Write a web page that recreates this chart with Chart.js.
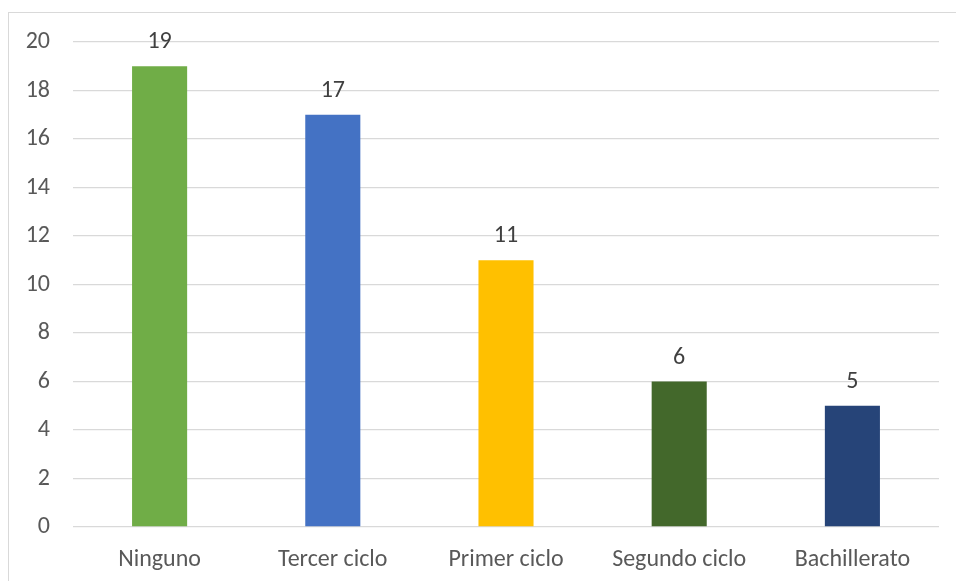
<!DOCTYPE html>
<html>
<head>
<meta charset="utf-8">
<script src="https://cdn.jsdelivr.net/npm/chart.js@4/dist/chart.umd.min.js"></script>
<style>
  html, body { margin: 0; padding: 0; background: #fff; }
  #wrap { position: relative; width: 956px; height: 581px; overflow: hidden; }
  #frame { position: absolute; left: 8px; top: 12px; width: 960px; height: 600px; border: 1.5px solid #d9d9d9; box-sizing: border-box; }
  canvas { position: absolute; left: 0; top: 0; }
</style>
</head>
<body>
<div id="wrap">
  <div id="frame"></div>
  <canvas id="chart" width="956" height="581"></canvas>
</div>
<script>
const categories = ['Ninguno', 'Tercer ciclo', 'Primer ciclo', 'Segundo ciclo', 'Bachillerato'];
const values = [19, 17, 11, 6, 5];
const barColors = ['#70AD47', '#4472C4', '#FFC000', '#43682B', '#264478'];

const fontFamily = 'Calibri, Carlito, "Liberation Sans", Arial, sans-serif';
const textColor = '#595959';

const valueLabels = {
    id: 'valueLabels',
    afterDatasetsDraw(chart) {
        const ctx = chart.ctx;
        const meta = chart.getDatasetMeta(0);
        ctx.save();
        ctx.font = '24px ' + fontFamily;
        ctx.fillStyle = '#404040';
        ctx.textAlign = 'center';
        ctx.textBaseline = 'alphabetic';
        meta.data.forEach((bar, i) => {
            ctx.fillText(String(values[i]), bar.x, bar.y - 18);
        });
        ctx.restore();
    }
};

new Chart(document.getElementById('chart'), {
    type: 'bar',
    data: {
        labels: categories,
        datasets: [{
            data: values,
            backgroundColor: barColors,
            borderWidth: 0,
            categoryPercentage: 1,
            barPercentage: 0.318
        }]
    },
    options: {
        responsive: false,
        animation: false,
        layout: { padding: { left: 0, top: 42, right: 17, bottom: 0 } },
        plugins: {
            legend: { display: false },
            tooltip: { enabled: false }
        },
        scales: {
            x: {
                grid: { display: false, drawTicks: false },
                border: { display: false },
                ticks: { color: textColor, font: { family: fontFamily, size: 24 }, padding: 19 },
                afterFit(scale) { scale.height = 54; }
            },
            y: {
                min: 0,
                max: 20,
                ticks: { stepSize: 2, color: textColor, font: { family: fontFamily, size: 24 }, padding: 23 },
                grid: { color: '#d9d9d9', lineWidth: 1.3, drawTicks: false },
                border: { display: false },
                afterFit(scale) { scale.width = 73; }
            }
        }
    },
    plugins: [valueLabels]
});
</script>
</body>
</html>
